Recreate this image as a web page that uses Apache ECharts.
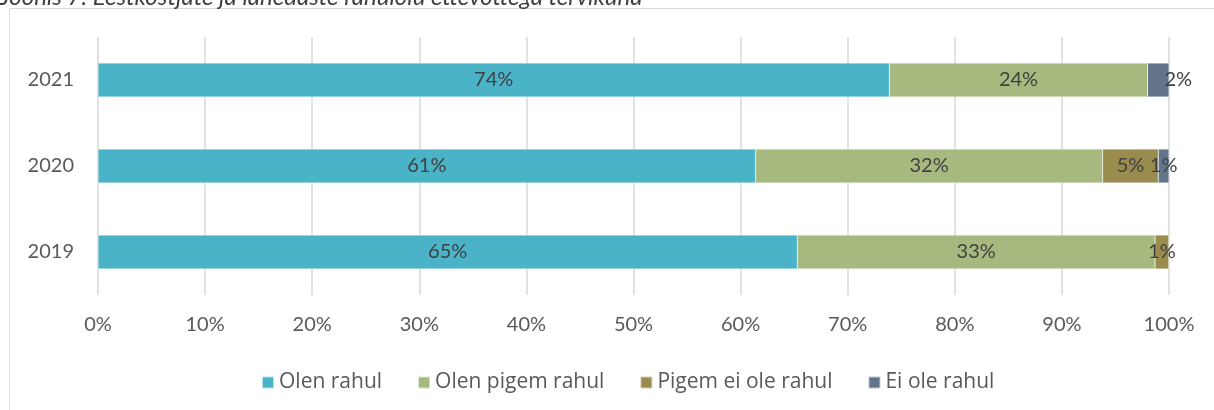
<!DOCTYPE html>
<html>
<head>
<meta charset="utf-8">
<script src="https://cdn.jsdelivr.net/npm/echarts@6/dist/echarts.min.js"></script>
<style>
html,body{margin:0;padding:0;background:#fff;}
#c{width:1214px;height:410px;}
</style>
</head>
<body>
<div id="c"></div>
<script>
const categories = ['2021', '2020', '2019'];
const seriesNames = ['Olen rahul', 'Olen pigem rahul', 'Pigem ei ole rahul', 'Ei ole rahul'];
const olenRahul = [73.9, 61.4, 65.3];
const olenPigemRahul = [24.1, 32.4, 33.4];
const pigemEiOleRahul = [0, 5.2, 1.3];
const eiOleRahul = [2.0, 1.0, 0];
const xTicks = [0, 10, 20, 30, 40, 50, 60, 70, 80, 90, 100];
const titleText = 'Joonis 7. Eestkostjate ja lähedaste rahulolu ettevõttega tervikuna';

const colors = ['#4BB3C8', '#A6B97F', '#9A8B4F', '#627489'];
const values = [olenRahul, olenPigemRahul, pigemEiOleRahul, eiOleRahul];

const chart = echarts.init(document.getElementById('c'), null, {renderer: 'canvas'});
const series = seriesNames.map((name, i) => ({
  name: name,
  type: 'bar',
  stack: 'total',
  barWidth: 34,
  itemStyle: {color: colors[i], borderColor: 'rgba(255,255,255,0.6)', borderWidth: 0.5},
  label: {
    show: true,
    position: 'inside',
    fontFamily: 'Lato, sans-serif',
    fontSize: 20,
    color: '#404040',
    formatter: p => p.value > 0 ? Math.round(p.value) + '%' : ''
  },
  data: values[i].map((v, j) => {
    const d = {value: v};
    if (i === 3 && j === 0) d.label = {offset: [20, 0]};
    return d;
  })
}));

chart.setOption({
  animation: false,
  color: colors,
  graphic: [
    {type: 'line', shape: {x1: 9.5, y1: 8.5, x2: 1214, y2: 8.5}, style: {stroke: '#d9d9d9', lineWidth: 1}},
    {type: 'line', shape: {x1: 9.5, y1: 8.5, x2: 9.5, y2: 410}, style: {stroke: '#d9d9d9', lineWidth: 1}},
    {type: 'text', left: 0, top: -15, style: {text: titleText, fontFamily: 'Lato, sans-serif', fontStyle: 'italic', fontSize: 24, fill: '#404040'}}
  ],
  legend: {
    data: seriesNames,
    top: 367,
    left: 256,
    icon: 'rect',
    itemWidth: 12,
    itemHeight: 12,
    itemGap: 35,
    textStyle: {fontFamily: 'Open Sans, sans-serif', fontSize: 21, color: '#595959'}
  },
  grid: {left: 98, right: 45, top: 37, bottom: 115},
  xAxis: {
    type: 'value',
    min: 0,
    max: 100,
    interval: 10,
    axisLine: {show: false},
    axisTick: {show: false},
    splitLine: {show: true, lineStyle: {color: '#d9d9d9', width: 1.5}},
    axisLabel: {
      margin: 20,
      fontFamily: 'Lato, sans-serif',
      fontSize: 20,
      color: '#595959',
      formatter: v => xTicks.indexOf(v) >= 0 ? v + '%' : ''
    }
  },
  yAxis: {
    type: 'category',
    data: categories,
    inverse: true,
    axisLine: {show: false},
    axisTick: {show: false},
    axisLabel: {margin: 24, fontFamily: 'Lato, sans-serif', fontSize: 20, color: '#595959'}
  },
  series: series
});
</script>
</body>
</html>
